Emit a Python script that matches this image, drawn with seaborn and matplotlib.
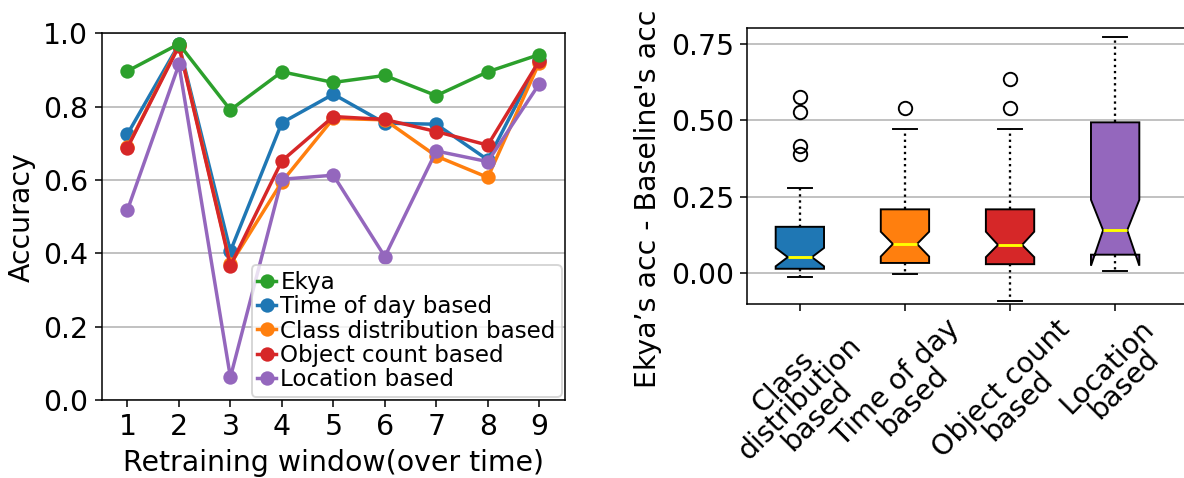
import numpy as np
import pandas as pd
import matplotlib
matplotlib.use("Agg")
import matplotlib.pyplot as plt
import seaborn as sns

# ---- accuracy per retraining window ----
windows = [1, 2, 3, 4, 5, 6, 7, 8, 9]
ekya = [0.897, 0.971, 0.791, 0.895, 0.866, 0.885, 0.830, 0.895, 0.942]
time_of_day = [0.725, 0.970, 0.406, 0.756, 0.834, 0.755, 0.752, 0.655, 0.927]
class_dist = [0.690, 0.968, 0.370, 0.595, 0.768, 0.764, 0.665, 0.607, 0.920]
object_count = [0.688, 0.965, 0.366, 0.652, 0.773, 0.765, 0.732, 0.695, 0.925]
location = [0.518, 0.915, 0.062, 0.602, 0.613, 0.391, 0.679, 0.650, 0.862]

series_names = ["Ekya", "Time of day based", "Class distribution based",
                "Object count based", "Location based"]
series_values = [ekya, time_of_day, class_dist, object_count, location]
series_colors = ["#2ca02c", "#1f77b4", "#ff7f0e", "#d62728", "#9467bd"]

# ---- accuracy gain of Ekya over each baseline (box statistics) ----
box_labels = ["Class\ndistribution\nbased", "Time of day\nbased",
              "Object count\nbased", "Location\nbased"]
box_colors = ["#1f77b4", "#ff7f0e", "#d62728", "#9467bd"]
whislo = [-0.012, -0.001, -0.091, 0.009]
q1 = [0.015, 0.034, 0.030, 0.061]
med = [0.053, 0.096, 0.093, 0.141]
q3 = [0.152, 0.209, 0.209, 0.493]
whishi = [0.280, 0.470, 0.470, 0.771]
cilo = [0.023, 0.055, 0.053, 0.025]
cihi = [0.083, 0.136, 0.136, 0.240]
fliers = [[0.577, 0.528, 0.417, 0.389], [0.539], [0.635, 0.539], []]

DPI = 138
fig = plt.figure(figsize=(1184 / DPI, 478 / DPI), dpi=DPI)
plt.rcParams["font.family"] = ["DejaVu Sans"]
FS = 14.8

# ---------------- left: line chart ----------------
ax1 = fig.add_axes([101.7 / 1184, 78 / 478, 463.3 / 1184, 366.7 / 478])
ax1.set_axisbelow(True)
ax1.grid(axis="y", color="#b0b0b0", linewidth=0.8)

df = pd.DataFrame({
    "window": np.tile(windows, len(series_names)),
    "acc": np.concatenate(series_values),
    "method": np.repeat(series_names, len(windows)),
})
draw_order = [1, 2, 3, 4, 0]
handles = {}
for i in draw_order:
    name = series_names[i]
    sub = df[df["method"] == name]
    sns.lineplot(data=sub, x="window", y="acc", ax=ax1, color=series_colors[i],
                 marker="o", markersize=7.5, markeredgewidth=0, linewidth=1.8,
                 label=name, legend=False)
    handles[name] = ax1.lines[-1]

ax1.set_xlim(0.5, 9.5)
ax1.set_ylim(0, 1.0)
ax1.set_xticks(windows)
ax1.set_yticks([0.0, 0.2, 0.4, 0.6, 0.8, 1.0])
ax1.tick_params(labelsize=FS)
ax1.set_xlabel("Retraining window(over time)", fontsize=FS)
ax1.set_ylabel("Accuracy", fontsize=FS)
ax1.legend([handles[n] for n in series_names], series_names, loc="lower right",
           fontsize=12, handlelength=0.8, handletextpad=0.2, labelspacing=0.05,
           borderpad=0.25, borderaxespad=0.15)

# ---------------- right: notched box plot ----------------
ax2 = fig.add_axes([747.3 / 1184, 174 / 478, 442.7 / 1184, 275.7 / 478])
ax2.set_axisbelow(True)
ax2.grid(axis="y", color="#b0b0b0", linewidth=0.8)

stats = []
for k in range(len(box_labels)):
    stats.append(dict(whislo=whislo[k], q1=q1[k], med=med[k], q3=q3[k],
                      whishi=whishi[k], cilo=cilo[k], cihi=cihi[k],
                      fliers=fliers[k], label=box_labels[k]))
bp = ax2.bxp(stats, positions=[1, 2, 3, 4], widths=0.46, shownotches=True,
             patch_artist=True,
             boxprops=dict(edgecolor="black", linewidth=1.0),
             medianprops=dict(color="yellow", linewidth=1.5),
             whiskerprops=dict(linestyle=":", linewidth=1.2, color="black"),
             capprops=dict(color="black", linewidth=1.0),
             flierprops=dict(marker="o", markerfacecolor="none",
                             markeredgecolor="black", markersize=7))
for patch, c in zip(bp["boxes"], box_colors):
    patch.set_facecolor(c)

ax2.set_xlim(0.5, 0.5 + 442.7 / 105.1)
ax2.set_ylim(-0.1, 0.8)
ax2.set_yticks([0.0, 0.25, 0.5, 0.75])
ax2.set_xticks([1, 2, 3, 4])
ax2.set_xticklabels(box_labels, rotation=45, ha="center", fontsize=FS,
                    multialignment="center", linespacing=0.82)
ax2.tick_params(labelsize=FS)
ax2.tick_params(axis="x", pad=2)
ax2.set_ylabel("Ekya\u2019s acc - Baseline's acc", fontsize=FS)
ax2.yaxis.set_label_coords(-0.193, 0.38)

fig.savefig("out.png", dpi=DPI)
